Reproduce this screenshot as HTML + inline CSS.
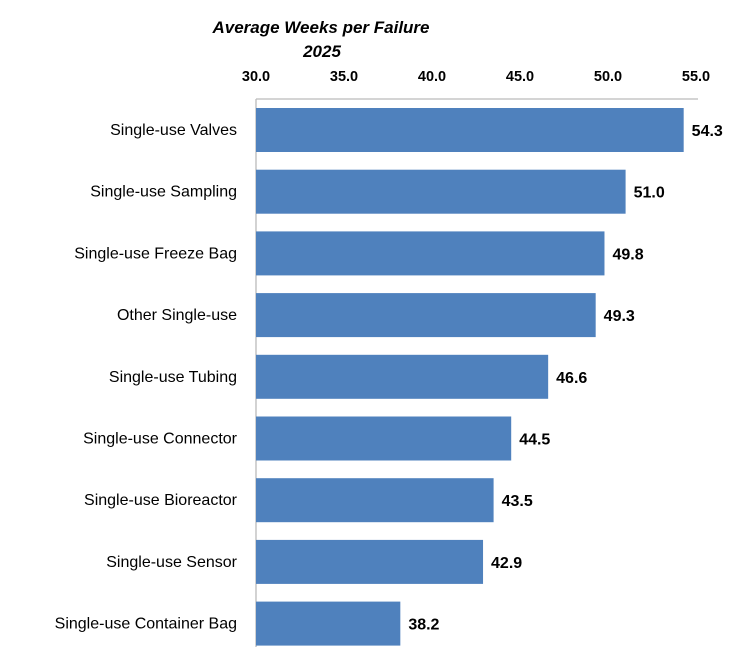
<!DOCTYPE html>
<html><head><meta charset="utf-8"><style>
body{margin:0;background:#fff;width:743px;height:647px;overflow:hidden}
svg{font-family:"Liberation Sans",Arial,sans-serif}
</style></head><body>
<svg id="chart" width="743" height="647" xmlns="http://www.w3.org/2000/svg">
<text x="321" y="33" text-anchor="middle" font-size="17" font-weight="bold" font-style="italic">Average Weeks per Failure</text>
<text x="322" y="57" text-anchor="middle" font-size="17" font-weight="bold" font-style="italic">2025</text>
<g id="axis"></g><g id="bars"></g>
</svg>
<script>
const categories=["Single-use Valves","Single-use Sampling","Single-use Freeze Bag","Other Single-use","Single-use Tubing","Single-use Connector","Single-use Bioreactor","Single-use Sensor","Single-use Container Bag"];
const values=[54.3,51.0,49.8,49.3,46.6,44.5,43.5,42.9,38.2];
const ticks=[30,35,40,45,50,55];
const NS="http://www.w3.org/2000/svg";
const x0=256,x1=696,xmin=30,xmax=55;
const xs=v=>x0+(v-xmin)/(xmax-xmin)*(x1-x0);
const plotTop=99,step=61.7,barH=44;
const ys=i=>plotTop+9+i*step;
function mk(t,a,p){const e=document.createElementNS(NS,t);for(const k in a)e.setAttribute(k,a[k]);p.appendChild(e);return e;}
const ax=document.getElementById('axis'),bg=document.getElementById('bars');
let l=mk('line',{x1:x0,y1:plotTop,x2:x1+2,y2:plotTop,stroke:'#bbb','stroke-width':1.3},ax);


l=mk('line',{x1:x0,y1:plotTop,x2:x0,y2:647,stroke:'#bbb','stroke-width':1.3},ax);


ticks.forEach(t=>{const e=mk('text',{x:xs(t),y:81,'text-anchor':'middle','font-size':14.5,'font-weight':'bold'},ax);e.textContent=t.toFixed(1);

});
categories.forEach((c,i)=>{const y=ys(i);
const r=mk('rect',{x:x0,y:y,width:xs(values[i])-x0,height:barH,fill:'#4f81bd'},bg);


const t=mk('text',{x:237,y:y+barH/2+5,'text-anchor':'end','font-size':16},bg);t.textContent=c;


const v=mk('text',{x:xs(values[i])+8,y:y+barH/2+6,'font-size':16,'font-weight':'bold'},bg);v.textContent=values[i].toFixed(1);

});
</script>
</body></html>
